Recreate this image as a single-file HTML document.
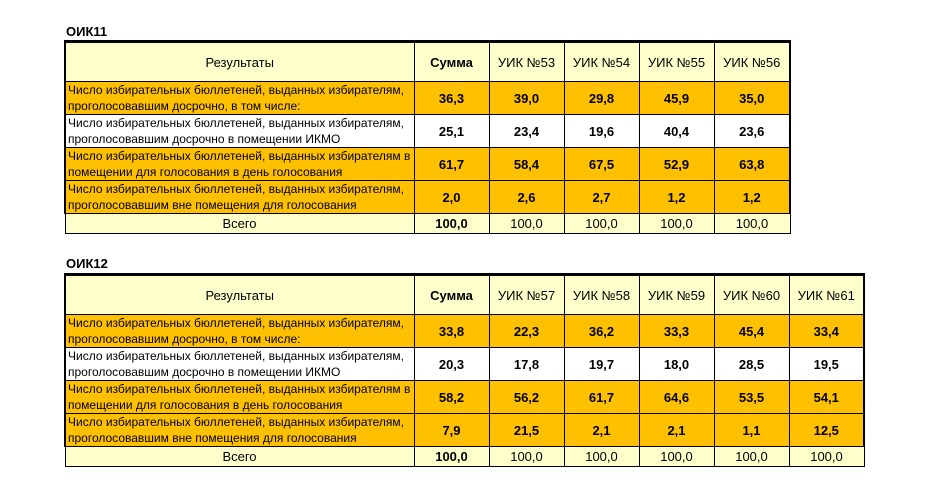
<!DOCTYPE html>
<html><head><meta charset="utf-8"><style>
body{margin:0;width:928px;height:487px;background:#fff;position:relative;overflow:hidden;font-family:"Liberation Sans","DejaVu Sans",sans-serif;color:#000}
.t{position:absolute;left:66px;font-weight:bold;font-size:13px}
table{position:absolute;left:64px;border-collapse:collapse;table-layout:fixed}
td{border:1px solid #000;padding:0;font-size:12px;text-align:center;vertical-align:middle;overflow:hidden;box-sizing:border-box}
tr.h td{background:#FFFFCC;height:40px;font-size:13px}
tr.o td{background:#FFC000;height:33px;font-weight:bold;font-size:13px}
tr.w td{background:#fff;height:33px;font-weight:bold;font-size:13px}
tr.s td{background:#FFFFCC;height:20px;font-size:13px}
tr td.l{text-align:left;font-weight:normal;font-size:12px;line-height:16px;padding-left:2px;white-space:nowrap}
.tb{border-top:3px solid #000}
.L{border-left:2px solid #000}.R{border-right:2px solid #000}
</style></head><body>
<div class="t" style="top:24px">ОИК11</div>
<table style="top:40px;width:725px">
<colgroup><col style="width:349px"><col style="width:75px"><col style="width:75px"><col style="width:75px"><col style="width:75px"><col style="width:76px"></colgroup>
<tr class="h"><td class="L tb">Результаты</td><td class="tb"><b>Сумма</b></td><td class="tb">УИК №53</td><td class="tb">УИК №54</td><td class="tb">УИК №55</td><td class="tb R">УИК №56</td></tr>
<tr class="o"><td class="l L">Число избирательных бюллетеней, выданных избирателям,<br>проголосовавшим досрочно, в том числе:</td><td>36,3</td><td>39,0</td><td>29,8</td><td>45,9</td><td class="R">35,0</td></tr>
<tr class="w"><td class="l L">Число избирательных бюллетеней, выданных избирателям,<br>проголосовавшим досрочно в помещении ИКМО</td><td>25,1</td><td>23,4</td><td>19,6</td><td>40,4</td><td class="R">23,6</td></tr>
<tr class="o"><td class="l L">Число избирательных бюллетеней, выданных избирателям в<br>помещении для голосования в день голосования</td><td>61,7</td><td>58,4</td><td>67,5</td><td>52,9</td><td class="R">63,8</td></tr>
<tr class="o"><td class="l L">Число избирательных бюллетеней, выданных избирателям,<br>проголосовавшим вне помещения для голосования</td><td>2,0</td><td>2,6</td><td>2,7</td><td>1,2</td><td class="R">1,2</td></tr>
<tr class="s"><td>Всего</td><td><b>100,0</b></td><td>100,0</td><td>100,0</td><td>100,0</td><td>100,0</td></tr>
</table>
<div class="t" style="top:256px">ОИК12</div>
<table style="top:273px;width:799px">
<colgroup><col style="width:349px"><col style="width:75px"><col style="width:75px"><col style="width:75px"><col style="width:75px"><col style="width:75px"><col style="width:75px"></colgroup>
<tr class="h"><td class="L tb">Результаты</td><td class="tb"><b>Сумма</b></td><td class="tb">УИК №57</td><td class="tb">УИК №58</td><td class="tb">УИК №59</td><td class="tb">УИК №60</td><td class="tb R">УИК №61</td></tr>
<tr class="o"><td class="l L">Число избирательных бюллетеней, выданных избирателям,<br>проголосовавшим досрочно, в том числе:</td><td>33,8</td><td>22,3</td><td>36,2</td><td>33,3</td><td>45,4</td><td class="R">33,4</td></tr>
<tr class="w"><td class="l L">Число избирательных бюллетеней, выданных избирателям,<br>проголосовавшим досрочно в помещении ИКМО</td><td>20,3</td><td>17,8</td><td>19,7</td><td>18,0</td><td>28,5</td><td class="R">19,5</td></tr>
<tr class="o"><td class="l L">Число избирательных бюллетеней, выданных избирателям в<br>помещении для голосования в день голосования</td><td>58,2</td><td>56,2</td><td>61,7</td><td>64,6</td><td>53,5</td><td class="R">54,1</td></tr>
<tr class="o"><td class="l L">Число избирательных бюллетеней, выданных избирателям,<br>проголосовавшим вне помещения для голосования</td><td>7,9</td><td>21,5</td><td>2,1</td><td>2,1</td><td>1,1</td><td class="R">12,5</td></tr>
<tr class="s"><td>Всего</td><td><b>100,0</b></td><td>100,0</td><td>100,0</td><td>100,0</td><td>100,0</td><td>100,0</td></tr>
</table>
</body></html>
